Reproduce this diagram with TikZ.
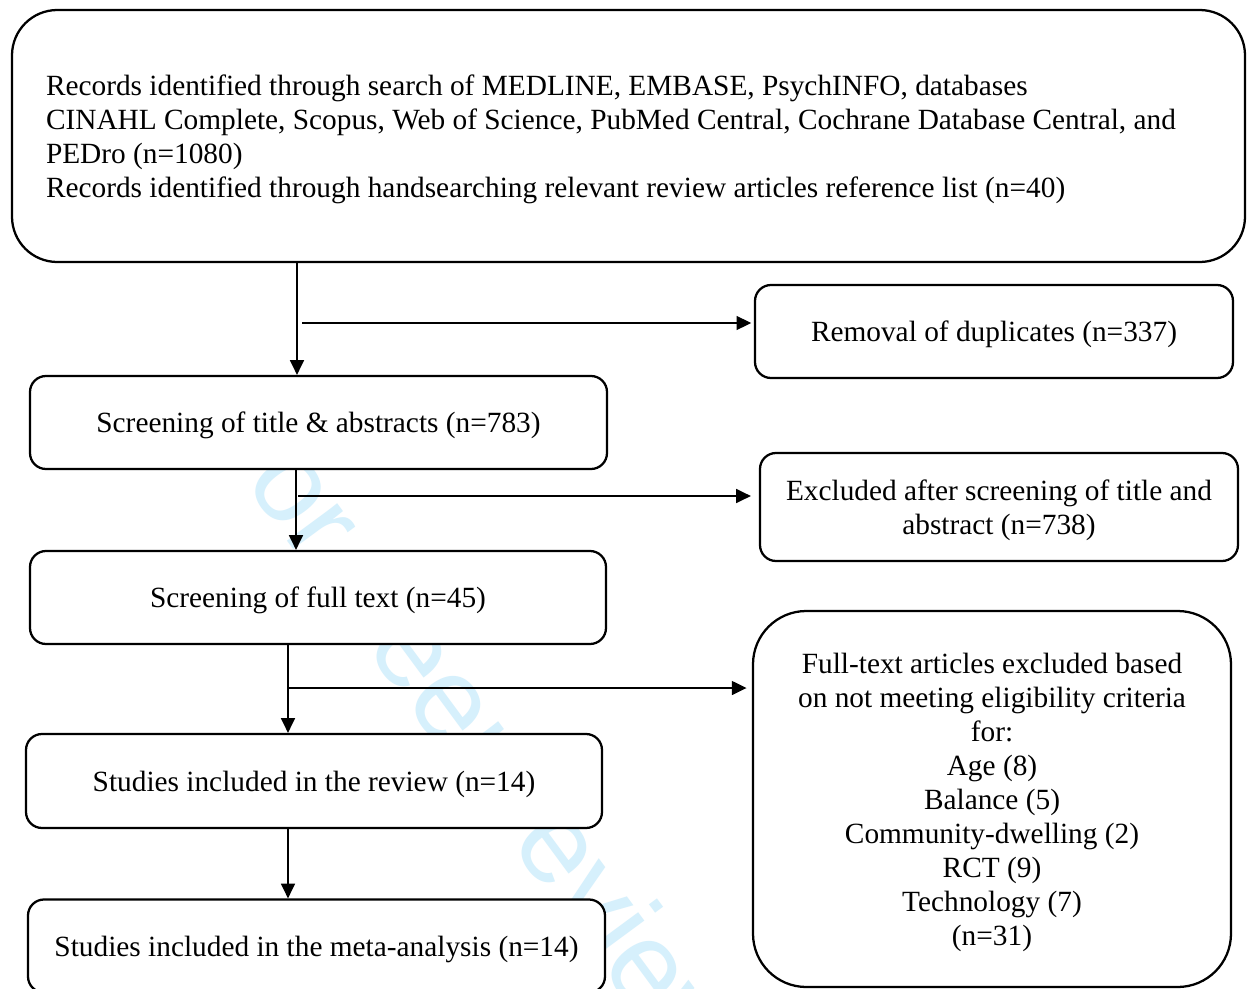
\documentclass[tikz,border=0pt]{standalone}
\usepackage{fontspec}
\setmainfont{Liberation Serif}
\newfontfamily\wmfont{Liberation Sans}
\usetikzlibrary{arrows.meta}
\definecolor{wmcyan}{RGB}{214,240,252}
\begin{document}
\begin{tikzpicture}[x=0.75pt,y=-0.75pt,
  box/.style={draw=black, line width=1.7pt, fill=white, rounded corners=12pt, inner sep=0pt, align=center, text depth=-1pt, font=\fontsize{22}{25.5}\selectfont},
  arr/.style={line width=1pt, -{Triangle[length=11pt,width=10.5pt]}},
  wm/.style={text=wmcyan, font=\wmfont\fontsize{89}{89}\selectfont, rotate=-53.6, anchor=west, inner sep=0pt}]
\useasboundingbox (0,0) rectangle (1247,989);
\clip (0,0) rectangle (1247,989);
\fill[white] (0,0) rectangle (1247,989);
\node[wm] (water) at (225,405) {For peer review only};

\node[box, text depth=, rounded corners=34pt, minimum width=1233*0.75pt, minimum height=252*0.75pt, text width=1165*0.75pt, align=flush left] (top) at (628.5,136)
 {\rule{0pt}{21pt}Records identified through search of MEDLINE, EMBASE, PsychINFO, databases\\
  CINAHL Complete, Scopus, Web of Science, PubMed Central, Cochrane Database Central, and\\
  PEDro (n=1080)\\
  Records identified through handsearching relevant review articles reference list (n=40)};

\node[box, minimum width=478*0.75pt, minimum height=93*0.75pt] (dup) at (994,331.5) {Removal of duplicates (n=337)};
\node[box, minimum width=577*0.75pt, minimum height=93*0.75pt] (scr1) at (318.5,422.5) {Screening of title \& abstracts (n=783)};
\node[box, minimum width=478*0.75pt, minimum height=108*0.75pt] (exc) at (999,507) {Excluded after screening of title and\\abstract (n=738)};
\node[box, minimum width=576*0.75pt, minimum height=93*0.75pt] (scr2) at (318,597.5) {Screening of full text (n=45)};
\node[box, rounded corners=40pt, minimum width=478*0.75pt, minimum height=376*0.75pt] (ftx) at (992,799) {Full-text articles excluded based\\on not meeting eligibility criteria\\for:\\Age (8)\\Balance (5)\\Community-dwelling (2)\\RCT (9)\\Technology (7)\\(n=31)};
\node[box, minimum width=576*0.75pt, minimum height=94*0.75pt] (rev) at (314,781) {Studies included in the review (n=14)};
\node[box, minimum width=577*0.75pt, minimum height=93*0.75pt] (meta) at (316.5,946) {Studies included in the meta-analysis (n=14)};

\coordinate (v1) at (297,0);
\coordinate (v2) at (296,0);
\coordinate (v3) at (288,0);
\coordinate (h1) at (302,323);
\coordinate (h2) at (298,496);
\coordinate (h3) at (288,688);

\draw[arr] (top.south -| v1) -- (scr1.north -| v1);
\draw[arr] (h1) -- ([xshift=-2pt]dup.west |- h1);
\draw[arr] (scr1.south -| v2) -- (scr2.north -| v2);
\draw[arr] (h2) -- ([xshift=-6pt]exc.west |- h2);
\draw[arr] (scr2.south -| v3) -- (rev.north -| v3);
\draw[arr] (h3) -- ([xshift=-4pt]ftx.west |- h3);
\draw[arr] (rev.south -| v3) -- (meta.north -| v3);
\end{tikzpicture}
\end{document}
